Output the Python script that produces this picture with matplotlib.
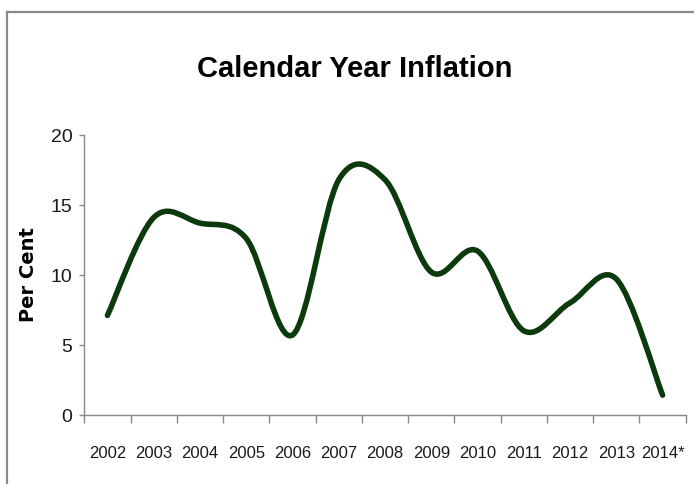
import numpy as np
import matplotlib.pyplot as plt
from matplotlib.path import Path
from matplotlib.patches import PathPatch
from matplotlib.lines import Line2D

# Data
years = ['2002', '2003', '2004', '2005', '2006', '2007', '2008',
         '2009', '2010', '2011', '2012', '2013', '2014*']
inflation = [7.1, 14.1, 13.7, 12.6, 5.7, 16.8, 16.8,
             10.2, 11.7, 6.0, 8.0, 9.7, 1.4]

plt.rcParams['font.family'] = ['Liberation Sans', 'DejaVu Sans']

fig = plt.figure(figsize=(6.94, 4.85), dpi=100)
ax = fig.add_axes([0.1215, 0.1429, 0.8666, 0.5767])

# Excel-style smoothed line: cubic Bezier segments through the points
x = np.arange(len(years), dtype=float)
y = np.array(inflation, dtype=float)
pts = np.column_stack([x, y])
verts = [pts[0]]
codes = [Path.MOVETO]
n = len(pts)
for i in range(n - 1):
    p0 = pts[i - 1] if i > 0 else pts[i]
    p1 = pts[i]
    p2 = pts[i + 1]
    p3 = pts[i + 2] if i + 2 < n else pts[i + 1]
    c1 = p1 + (p2 - p0) / 6.0
    c2 = p2 - (p3 - p1) / 6.0
    verts += [c1, c2, p2]
    codes += [Path.CURVE4] * 3
curve = PathPatch(Path(verts, codes), fill=False, edgecolor='#0d3a0d',
                  linewidth=4.0, capstyle='round', joinstyle='round', zorder=3)
ax.add_patch(curve)

ax.set_xlim(-0.5, len(years) - 0.5)
ax.set_ylim(0, 20)
ax.set_yticks([0, 5, 10, 15, 20])

# category boundaries get tick marks, centres get the labels
ax.set_xticks(np.arange(-0.5, len(years), 1.0))
ax.set_xticklabels([])
ax.set_xticks(x, minor=True)
ax.set_xticklabels(years, minor=True)
ax.tick_params(axis='x', which='major', length=6, width=1, color='#898989', direction='out')
ax.tick_params(axis='x', which='minor', length=0, pad=22, labelsize=12, labelcolor='#1a1a1a')
ax.tick_params(axis='y', length=3.6, width=1, color='#898989', pad=5, labelsize=14,
               labelcolor='#1a1a1a')

for side in ['top', 'right']:
    ax.spines[side].set_visible(False)
for side in ['left', 'bottom']:
    ax.spines[side].set_color('#898989')
    ax.spines[side].set_linewidth(1)

ax.set_ylabel('Per Cent', family='DejaVu Sans', fontweight='bold', fontsize=14, color='black')
ax.yaxis.set_label_coords(-0.077, 0.503)

fig.text(0.5115, 0.858, 'Calendar Year Inflation', ha='center', va='center',
         fontsize=21, fontweight='bold', color='black')

# outer frame (top and left edges visible)
fig.add_artist(Line2D([7.3 / 694, 1], [1 - 13 / 485, 1 - 13 / 485],
                      transform=fig.transFigure, color='#8a8a8a', linewidth=1.6))
fig.add_artist(Line2D([7.3 / 694, 7.3 / 694], [0, 1 - 13 / 485],
                      transform=fig.transFigure, color='#8a8a8a', linewidth=1.6))

plt.savefig('out.png', dpi=100)
